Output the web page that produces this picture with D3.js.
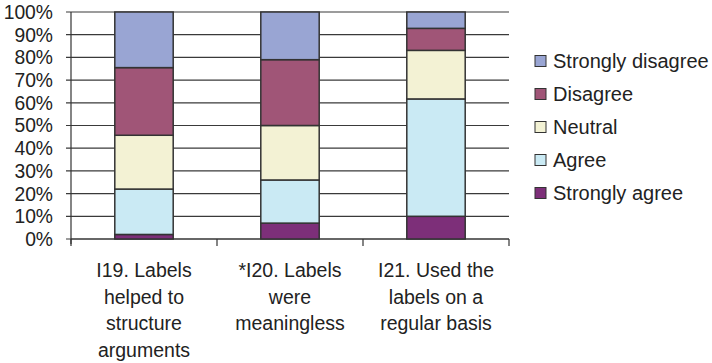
<!DOCTYPE html>
<html><head><meta charset="utf-8">
<script src="https://cdn.jsdelivr.net/npm/d3@7"></script>
<style>body{margin:0;background:#fff}svg{display:block}text{font-family:"Liberation Sans",Arial,sans-serif;fill:#222}</style>
</head><body><svg id="c" width="712" height="363"></svg>
<script>
const categories = [
  ["I19. Labels","helped to","structure","arguments"],
  ["*I20. Labels","were","meaningless"],
  ["I21. Used the","labels on a","regular basis"]
];
const seriesNames = ["Strongly agree","Agree","Neutral","Disagree","Strongly disagree"];
const stronglyAgree    = [2, 7, 10];
const agree            = [20, 19, 51.7];
const neutral          = [23.7, 24, 21.4];
const disagree         = [29.8, 29, 9.7];
const stronglyDisagree = [24.5, 21, 7.2];
const yTicks = [0,10,20,30,40,50,60,70,80,90,100];
const colors = ["#7d2f79","#caeaf4","#f3f2d4","#a05577","#99a5d3"];

const svg = d3.select("#c");
const L = 71, R = 509, T = 12, B = 239;
const x = d3.scaleBand().domain(d3.range(categories.length)).range([L, R]).paddingInner(0.6).paddingOuter(0.3);
const xb = d3.scaleBand().domain(d3.range(categories.length)).range([L, R]);
const y = d3.scaleLinear().domain([0,100]).range([B, T]);

// gridlines
svg.append("g").selectAll("line").data(yTicks).join("line")
  .attr("x1", L-5).attr("x2", R).attr("y1", d=>y(d)).attr("y2", d=>y(d))
  .attr("stroke", "#3a3a3a").attr("stroke-width", 1.2);

// y labels
svg.append("g").selectAll("text").data(yTicks).join("text")
  .attr("x", 53).attr("y", d=>y(d)).attr("dy","0.36em").attr("text-anchor","end")
  .attr("font-size", 19.3).text(d=>d+"%");

// axes lines
svg.append("line").attr("x1",L).attr("x2",L).attr("y1",T).attr("y2",B+5).attr("stroke","#333").attr("stroke-width",1.2);
svg.append("line").attr("x1",L).attr("x2",R).attr("y1",B).attr("y2",B).attr("stroke","#333").attr("stroke-width",1.2);
svg.append("g").selectAll("line").data(d3.range(categories.length+1)).join("line")
  .attr("x1", i=> i<categories.length ? xb(i) : R).attr("x2", i=> i<categories.length ? xb(i) : R)
  .attr("y1", B).attr("y2", B+7).attr("stroke","#333").attr("stroke-width",1.2);

// stacked bars
const rows = categories.map((c,i)=>({i, "Strongly agree":stronglyAgree[i], "Agree":agree[i], "Neutral":neutral[i], "Disagree":disagree[i], "Strongly disagree":stronglyDisagree[i]}));
const stack = d3.stack().keys(seriesNames)(rows);
svg.append("g").selectAll("g").data(stack).join("g")
  .attr("fill",(d,k)=>colors[k])
  .selectAll("rect").data(d=>d).join("rect")
  .attr("x", d=>x(d.data.i)).attr("width", x.bandwidth())
  .attr("y", d=>y(d[1])).attr("height", d=>y(d[0])-y(d[1]))
  .attr("stroke","#333").attr("stroke-width",1.5);

// x labels
const xl = svg.append("g").selectAll("text").data(categories).join("text")
  .attr("text-anchor","middle").attr("font-size",19.5)
  .attr("transform",(d,i)=>`translate(${xb(i)+xb.bandwidth()/2},0)`);
xl.selectAll("tspan").data(d=>d).join("tspan")
  .attr("x",0).attr("y",(d,j)=>277+j*26.6).text(d=>d);

// legend
const leg = svg.append("g").selectAll("g").data(seriesNames.slice().reverse()).join("g")
  .attr("transform",(d,j)=>`translate(535,${61+j*33})`);
leg.append("rect").attr("x",0).attr("y",-5.5).attr("width",11).attr("height",11)
  .attr("fill",d=>colors[seriesNames.indexOf(d)]).attr("stroke","#333").attr("stroke-width",1);
leg.append("text").attr("x",18).attr("y",0).attr("dy","0.36em").attr("font-size",20).text(d=>d);
</script></body></html>
